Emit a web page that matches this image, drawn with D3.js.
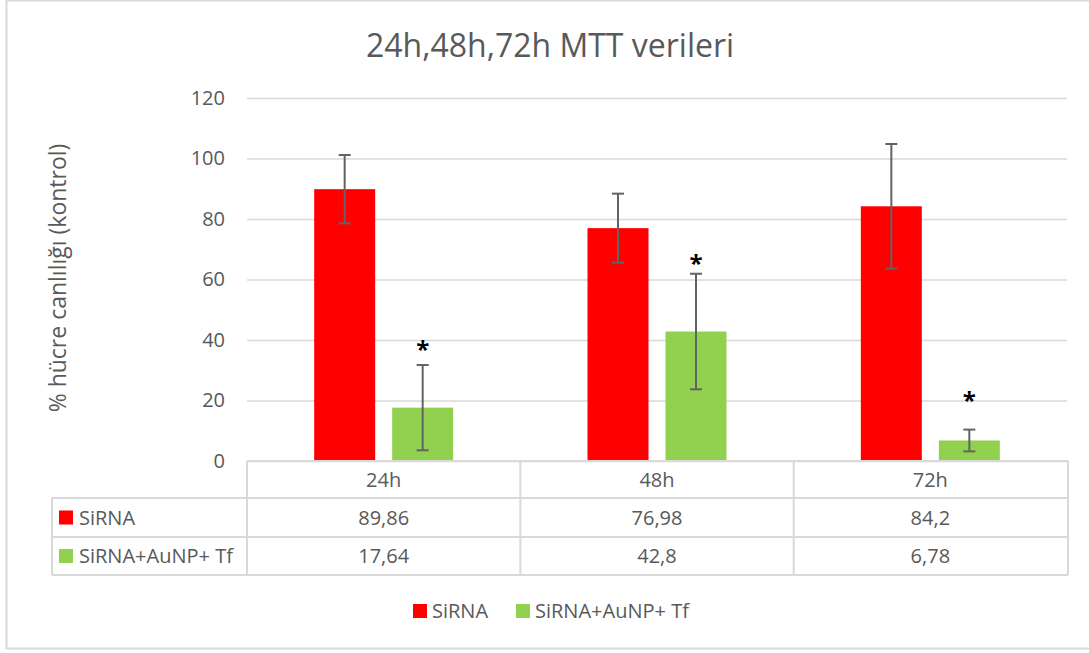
<!DOCTYPE html>
<html>
<head>
<meta charset="utf-8">
<script src="https://cdn.jsdelivr.net/npm/d3@7"></script>
<style>
  body { margin: 0; background: #fff; }
  svg text { font-family: "Open Sans", sans-serif; fill: #595959; }
</style>
</head>
<body>
<script>
// chart values
var categories = ["24h", "48h", "72h"];
var seriesNames = ["SiRNA", "SiRNA+AuNP+ Tf"];
var sirna = [89.86, 76.98, 84.2];
var sirnaAu = [17.64, 42.8, 6.78];
var sirnaErr = [11.3, 11.4, 20.6];
var sirnaAuErr = [14.1, 19.1, 3.6];
var sirnaLabels = ["89,86", "76,98", "84,2"];
var sirnaAuLabels = ["17,64", "42,8", "6,78"];
var starY = [38.7, 67.1, 21.8];   // where the * marks sit, in axis units
var yTicks = [0, 20, 40, 60, 80, 100, 120];

var colors = ["#ff0000", "#92d050"];
var W = 1089, H = 653;

var svg = d3.select("body").append("svg").attr("width", W).attr("height", H);

// outer frame
svg.append("rect").attr("x", 6.5).attr("y", 0.5).attr("width", W + 10).attr("height", 648)
  .attr("fill", "none").attr("stroke", "#d9d9d9").attr("stroke-width", 2);

svg.append("text").attr("x", 550).attr("y", 57).attr("text-anchor", "middle")
  .style("font-size", "32px").text("24h,48h,72h MTT verileri");

var x0 = d3.scaleBand().domain(categories).range([247, 1067]);
var y = d3.scaleLinear().domain([0, 120]).range([461, 98]);

// gridlines + tick labels
var yAxis = d3.axisLeft(y).tickValues(yTicks).tickSize(-(1067 - 247)).tickPadding(22);
var gy = svg.append("g").attr("transform", "translate(247,0)").call(yAxis);
gy.select(".domain").remove();
gy.selectAll("line").attr("stroke", "#d9d9d9").attr("stroke-width", 1.5);
gy.selectAll("text").style("font-size", "20px").style("fill", "#595959")
  .style("font-family", "Open Sans, sans-serif");

svg.append("text").attr("transform", "translate(66,278) rotate(-90)")
  .attr("text-anchor", "middle").style("font-size", "23px").text("% hücre canlılığı (kontrol)");

var barW = 61, gap = 17;
var series = [
  { vals: sirna, err: sirnaErr, off: -(barW + gap) / 2 },
  { vals: sirnaAu, err: sirnaAuErr, off: (barW + gap) / 2 }
];

series.forEach(function(s, si) {
  var g = svg.append("g");
  g.selectAll("rect").data(s.vals).enter().append("rect")
    .attr("x", function(d, i) { return x0(categories[i]) + x0.bandwidth() / 2 + s.off - barW / 2; })
    .attr("y", function(d) { return y(d); })
    .attr("width", barW)
    .attr("height", function(d) { return y(0) - y(d); })
    .attr("fill", colors[si]);

  // error bars
  var eb = g.selectAll(".eb").data(s.vals).enter().append("g").attr("class", "eb")
    .attr("stroke", "#636363").attr("stroke-width", 2);
  eb.append("line")
    .attr("x1", function(d, i) { return x0(categories[i]) + x0.bandwidth() / 2 + s.off; })
    .attr("x2", function(d, i) { return x0(categories[i]) + x0.bandwidth() / 2 + s.off; })
    .attr("y1", function(d, i) { return y(d + s.err[i]); })
    .attr("y2", function(d, i) { return y(d - s.err[i]); });
  [1, -1].forEach(function(sign) {
    eb.append("line")
      .attr("x1", function(d, i) { return x0(categories[i]) + x0.bandwidth() / 2 + s.off - 6; })
      .attr("x2", function(d, i) { return x0(categories[i]) + x0.bandwidth() / 2 + s.off + 6; })
      .attr("y1", function(d, i) { return y(d + sign * s.err[i]); })
      .attr("y2", function(d, i) { return y(d + sign * s.err[i]); });
  });
});

// significance stars
svg.selectAll(".star").data(starY).enter().append("text").attr("class", "star")
  .attr("x", function(d, i) { return x0(categories[i]) + x0.bandwidth() / 2 + (barW + gap) / 2; })
  .attr("y", function(d) { return y(d) + 14; })
  .attr("text-anchor", "middle").style("font-size", "24px").style("font-weight", "bold")
  .style("fill", "#000").text("*");

// data table
var rowY = [461, 498, 537, 575];
var tl = 52, tr = 1068;
var tg = svg.append("g").attr("stroke", "#d9d9d9").attr("stroke-width", 2);
tg.append("line").attr("x1", 247).attr("x2", tr).attr("y1", rowY[0]).attr("y2", rowY[0]);
rowY.slice(1).forEach(function(ry) {
  tg.append("line").attr("x1", tl).attr("x2", tr).attr("y1", ry).attr("y2", ry);
});
tg.append("line").attr("x1", tl).attr("x2", tl).attr("y1", rowY[1]).attr("y2", rowY[3]);
categories.forEach(function(c) {
  tg.append("line").attr("x1", x0(c)).attr("x2", x0(c)).attr("y1", rowY[0]).attr("y2", rowY[3]);
});
tg.append("line").attr("x1", tr).attr("x2", tr).attr("y1", rowY[0]).attr("y2", rowY[3]);

var cellText = function(txt, cx, ry0, ry1, anchor) {
  svg.append("text").attr("x", cx).attr("y", (ry0 + ry1) / 2 + 7)
    .attr("text-anchor", anchor || "middle").style("font-size", "20px").text(txt);
};
categories.forEach(function(c, i) {
  var cx = x0(c) + x0.bandwidth() / 2;
  cellText(c, cx, rowY[0], rowY[1]);
  cellText(sirnaLabels[i], cx, rowY[1], rowY[2]);
  cellText(sirnaAuLabels[i], cx, rowY[2], rowY[3]);
});
seriesNames.forEach(function(n, i) {
  var r0 = rowY[i + 1], r1 = rowY[i + 2];
  svg.append("rect").attr("x", 59).attr("y", (r0 + r1) / 2 - 7).attr("width", 14).attr("height", 14)
    .attr("fill", colors[i]);
  cellText(n, 79, r0, r1, "start");
});

// legend
var legX = [413, 516];
seriesNames.forEach(function(n, i) {
  svg.append("rect").attr("x", legX[i]).attr("y", 604).attr("width", 14).attr("height", 14).attr("fill", colors[i]);
  svg.append("text").attr("x", legX[i] + 19).attr("y", 618).style("font-size", "20px").text(n);
});
</script>
</body>
</html>
